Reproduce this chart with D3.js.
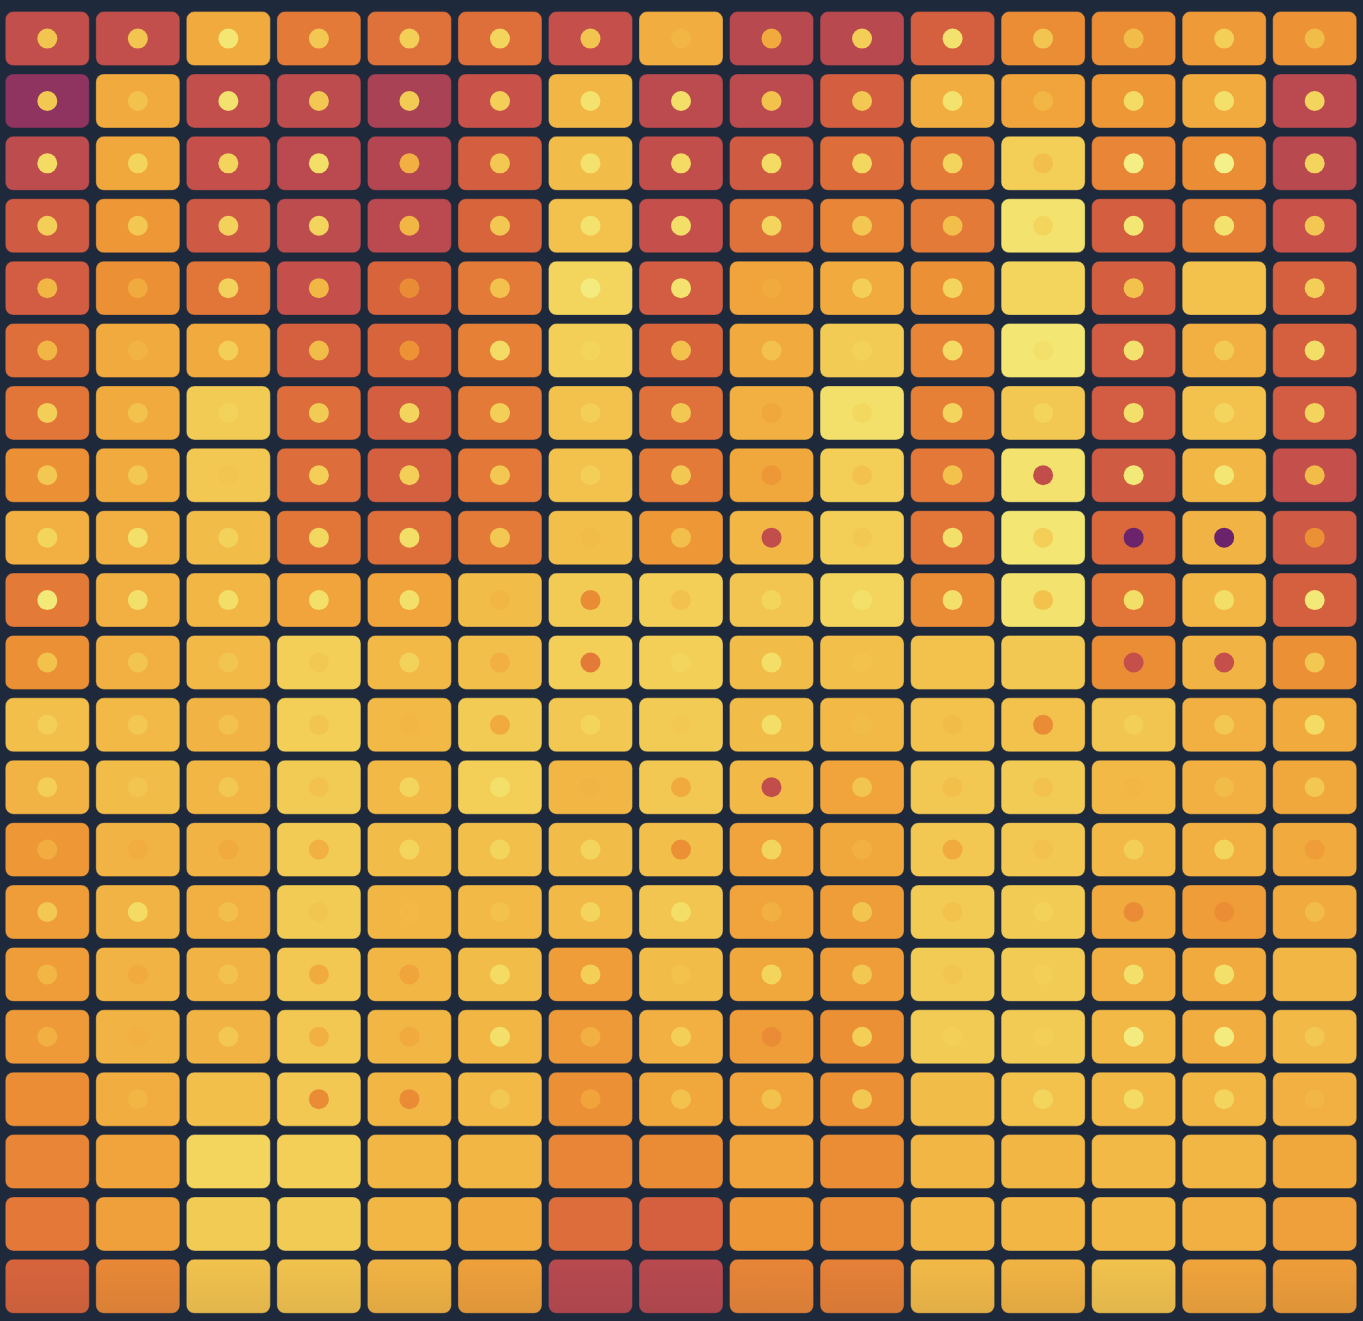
<!DOCTYPE html>
<html lang="en">
  <head>
    <meta charset="UTF-8" />
    <title>Heat grid</title>
    <script src="https://d3js.org/d3.v7.min.js"></script>
    <style>
      html, body { margin: 0; padding: 0; background: #1e293b; overflow: hidden; }
      svg { display: block; }
    </style>
  </head>
  <body>
    <div id="chart-container"></div>

    <script>
      // Column and row ids (no labels shown in the chart)
      const columns = ["c1","c2","c3","c4","c5","c6","c7","c8","c9","c10","c11","c12","c13","c14","c15"];
      const rows = ["r1","r2","r3","r4","r5","r6","r7","r8","r9","r10","r11","r12","r13","r14","r15","r16","r17","r18","r19","r20","r21"];

      // Value of each tile (0-100), one line per row
      const cellValues = [
        [37, 37, 76, 60, 56, 55, 38, 77, 30, 30, 48, 67, 67, 71, 69],
        [15, 76, 37, 33, 25, 40, 80, 32, 32, 47, 77, 74, 70, 76, 31],
        [33, 75, 38, 31, 28, 47, 82, 36, 45, 54, 60, 88, 64, 67, 30],
        [45, 70, 44, 33, 31, 50, 84, 38, 56, 64, 60, 95, 47, 62, 40],
        [46, 68, 58, 38, 50, 60, 90, 46, 74, 76, 68, 90, 47, 84, 48],
        [55, 76, 76, 48, 50, 62, 88, 50, 76, 87, 64, 96, 46, 78, 48],
        [58, 76, 87, 54, 47, 60, 84, 56, 78, 94, 62, 86, 46, 84, 46],
        [68, 76, 86, 54, 48, 59, 84, 60, 75, 88, 59, 95, 45, 80, 38],
        [78, 78, 82, 58, 55, 60, 83, 70, 80, 88, 58, 96, 52, 79, 44],
        [60, 78, 80, 74, 74, 82, 87, 88, 85, 90, 66, 95, 58, 80, 48],
        [68, 78, 81, 88, 81, 83, 88, 88, 82, 83, 84, 86, 67, 79, 68],
        [83, 81, 79, 88, 81, 87, 86, 87, 82, 81, 84, 84, 85, 78, 76],
        [79, 82, 80, 87, 81, 88, 80, 86, 81, 74, 86, 87, 81, 78, 75],
        [70, 79, 79, 87, 82, 83, 82, 83, 74, 75, 86, 86, 81, 78, 76],
        [72, 79, 78, 87, 80, 81, 81, 85, 74, 72, 87, 87, 76, 72, 76],
        [72, 79, 79, 86, 80, 82, 72, 82, 75, 72, 87, 87, 78, 76, 80],
        [71, 79, 79, 86, 80, 80, 71, 78, 72, 68, 87, 87, 81, 77, 81],
        [67, 77, 83, 86, 80, 81, 68, 75, 74, 68, 82, 84, 81, 80, 78],
        [64, 74, 90, 88, 80, 80, 64, 66, 74, 67, 80, 80, 81, 80, 75],
        [59, 73, 87, 87, 80, 76, 54, 48, 70, 66, 80, 80, 81, 78, 73],
        [50, 65, 84, 84, 79, 73, 30, 30, 64, 62, 81, 79, 84, 74, 72]
      ];

      // Value of the dot inside each tile (null = no dot)
      const dotValues = [
        [85, 85, 96, 86, 88, 90, 85, 80, 76, 88, 95, 85, 82, 88, 82],
        [86, 84, 95, 86, 87, 88, 95, 93, 84, 86, 95, 80, 92, 94, 90],
        [92, 90, 90, 93, 78, 86, 95, 92, 92, 91, 90, 83, 99, 100, 90],
        [88, 86, 89, 90, 80, 86, 95, 93, 90, 86, 83, 90, 96, 95, 86],
        [80, 76, 89, 80, 66, 84, 98, 95, 76, 88, 90, 90, 84, 84, 88],
        [80, 79, 88, 82, 69, 92, 90, 84, 84, 89, 92, 94, 95, 87, 93],
        [88, 84, 89, 87, 90, 88, 88, 86, 75, 91, 90, 90, 94, 90, 90],
        [86, 86, 85, 88, 88, 86, 88, 86, 70, 84, 84, 36, 97, 96, 82],
        [90, 94, 89, 91, 93, 86, 82, 83, 36, 86, 94, 88, 2, 2, 68],
        [97, 94, 93, 94, 94, 80, 66, 84, 90, 94, 94, 84, 93, 93, 97],
        [84, 85, 85, 86, 89, 78, 60, 90, 93, 84, 84, 86, 38, 38, 86],
        [88, 86, 84, 85, 80, 76, 90, 86, 93, 82, 82, 66, 88, 86, 92],
        [88, 85, 86, 84, 90, 94, 79, 76, 36, 85, 83, 84, 80, 82, 86],
        [77, 77, 76, 78, 90, 90, 90, 68, 90, 78, 76, 84, 88, 90, 72],
        [86, 92, 83, 85, 81, 84, 90, 93, 78, 85, 84, 89, 66, 67, 82],
        [80, 76, 84, 76, 74, 92, 88, 84, 90, 86, 85, 88, 94, 94, 80],
        [78, 78, 86, 78, 76, 94, 78, 88, 66, 88, 88, 88, 98, 98, 86],
        [67, 80, 83, 66, 66, 86, 74, 84, 84, 86, 82, 90, 92, 90, 80],
        [null, null, null, null, null, null, null, null, null, null, null, null, null, null, null],
        [null, null, null, null, null, null, null, null, null, null, null, null, null, null, null],
        [null, null, null, null, null, null, null, null, null, null, null, null, null, null, null]
      ];

      // Colour ramp stops
      const colorStops = [0, 15, 30, 40, 50, 60, 68, 76, 84, 91, 96, 100];
      const colorRange = ["#66206c", "#8f3461", "#b8494f", "#c8524a", "#d8643c", "#e47a38",
                          "#ec9035", "#f1aa3d", "#f2c24d", "#f3d860", "#f3e672", "#f4f08a"];

      const width = 1363;
      const height = 1321;

      const svg = d3
        .select("#chart-container")
        .append("svg")
        .attr("width", width)
        .attr("height", height);

      svg.append("rect")
        .attr("width", width)
        .attr("height", height)
        .attr("fill", "#1e293b");

      const xScale = d3.scaleBand()
        .domain(columns)
        .range([5.3, 1356.7])
        .paddingInner(0.072)
        .paddingOuter(0);

      const yScale = d3.scaleBand()
        .domain(rows)
        .range([11.6, 1313.3])
        .paddingInner(0.135)
        .paddingOuter(0);

      const color = d3.scaleLinear()
        .domain(colorStops)
        .range(colorRange)
        .interpolate(d3.interpolateRgb);

      // flatten into tiles
      const tiles = [];
      rows.forEach((r, i) => {
        columns.forEach((c, j) => {
          tiles.push({ row: r, col: c, value: cellValues[i][j], dot: dotValues[i][j] });
        });
      });

      svg.append("g")
        .selectAll("rect")
        .data(tiles)
        .enter()
        .append("rect")
        .attr("x", (d) => xScale(d.col))
        .attr("y", (d) => yScale(d.row))
        .attr("width", xScale.bandwidth())
        .attr("height", yScale.bandwidth())
        .attr("rx", 8)
        .attr("ry", 8)
        .attr("fill", (d) => color(d.value))
        .attr("stroke", "#1e293b")
        .attr("stroke-opacity", 0.35)
        .attr("stroke-width", 1);

      svg.append("g")
        .selectAll("circle")
        .data(tiles.filter((d) => d.dot !== null))
        .enter()
        .append("circle")
        .attr("cx", (d) => xScale(d.col) + xScale.bandwidth() / 2)
        .attr("cy", (d) => yScale(d.row) + yScale.bandwidth() / 2)
        .attr("r", 10)
        .attr("fill", (d) => color(d.dot));

      // slight shade on the last row
      const defs = svg.append("defs");
      const grad = defs.append("linearGradient")
        .attr("id", "fade")
        .attr("x1", 0).attr("y1", 0)
        .attr("x2", 0).attr("y2", 1);
      grad.append("stop").attr("offset", "0%").attr("stop-color", "#1e293b").attr("stop-opacity", 0);
      grad.append("stop").attr("offset", "100%").attr("stop-color", "#1e293b").attr("stop-opacity", 0.08);

      svg.append("rect")
        .attr("x", 0)
        .attr("y", yScale("r21"))
        .attr("width", width)
        .attr("height", yScale.bandwidth())
        .attr("fill", "url(#fade)")
        .attr("pointer-events", "none");
    </script>
  </body>
</html>
